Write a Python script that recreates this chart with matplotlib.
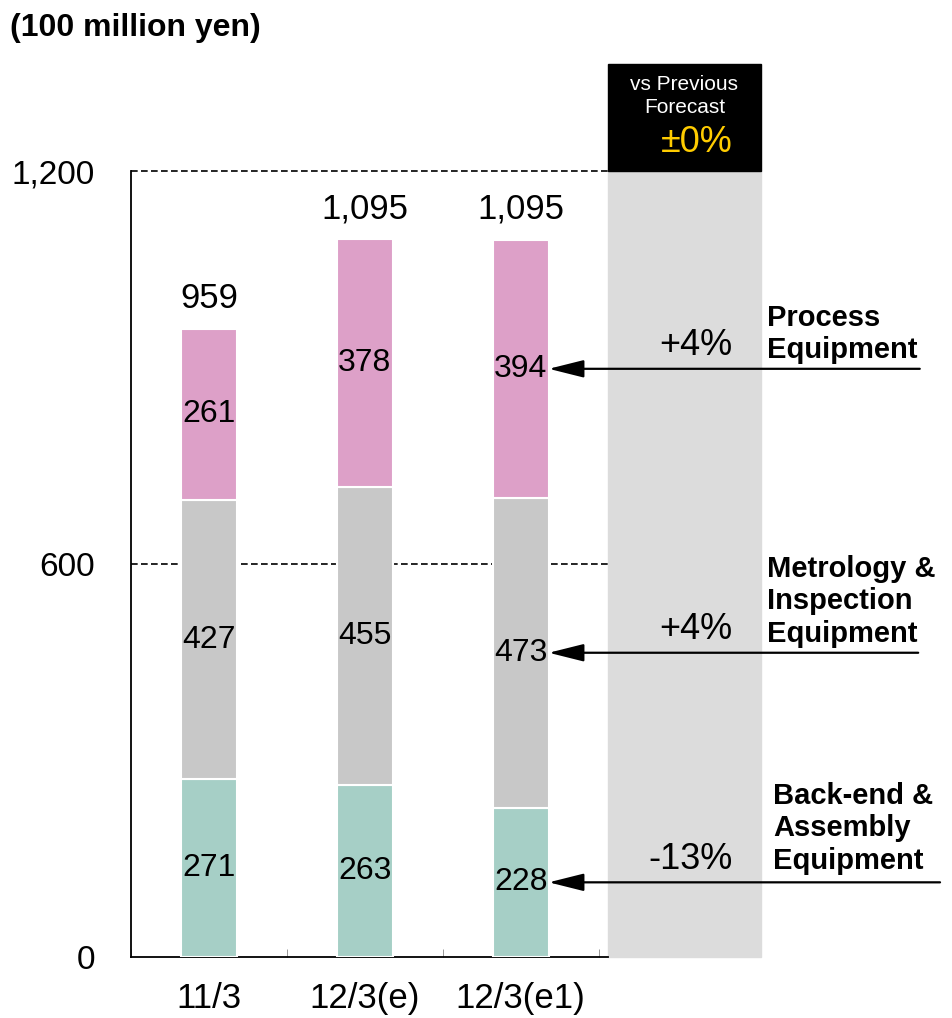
import matplotlib
matplotlib.use('Agg')
import matplotlib.pyplot as plt
from matplotlib.patches import Rectangle

# sales by segment, 100 million yen
periods = ['11/3', '12/3(e)', '12/3(e1)']
backend = [271, 263, 228]
metrology = [427, 455, 473]
process = [261, 378, 394]
totals = ['959', '1,095', '1,095']

segment_names = ['Back-end &\nAssembly\nEquipment',
                 'Metrology &\nInspection\nEquipment',
                 'Process\nEquipment']
segment_change = ['-13%', '+4%', '+4%']
overall_change = '\u00b10%'

c_back = '#a6cfc6'
c_metro = '#c8c8c8'
c_proc = '#dda0c8'

FONT = ['Liberation Sans', 'DejaVu Sans']

fig = plt.figure(figsize=(9.52, 10.18), dpi=100)
ax = fig.add_axes([131/952, 61/1018, 477/952, 786/1018])

x = range(len(periods))
w = 0.36
bottoms2 = [a + b for a, b in zip(backend, metrology)]
ax.bar(x, backend, w, color=c_back, edgecolor='white', lw=1.5, zorder=3)
ax.bar(x, metrology, w, bottom=backend, color=c_metro, edgecolor='white', lw=1.5, zorder=3)
ax.bar(x, process, w, bottom=bottoms2, color=c_proc, edgecolor='white', lw=1.5, zorder=3)

# values inside the segments
for i in x:
    for bot, h in [(0, backend[i]), (backend[i], metrology[i]), (bottoms2[i], process[i])]:
        ax.text(i, bot + h / 2, str(h), ha='center', va='center',
                fontsize=23, family=FONT, zorder=4)
    top = bottoms2[i] + process[i]
    ax.annotate(totals[i], (i, top), xytext=(0, 10), textcoords='offset points',
                ha='center', va='bottom', fontsize=25, family=FONT)

ax.set_xlim(-0.5, 2.56)
ax.set_ylim(0, 1200)
for y in (600, 1200):
    ax.axhline(y, color='black', ls=(0, (4, 2)), lw=1.2, zorder=1, clip_on=False)

for s in ('top', 'right'):
    ax.spines[s].set_visible(False)
ax.spines['left'].set_linewidth(1.3)
ax.spines['bottom'].set_linewidth(1.3)

ax.set_yticks([0, 600, 1200])
ax.set_yticklabels(['0', '600', '1,200'], fontsize=24, family=FONT)
ax.tick_params(axis='y', length=0, pad=26)
ax.set_xticks(list(x))
ax.set_xticklabels(periods, fontsize=25, family=FONT)
ax.tick_params(axis='x', length=0, pad=18)
ax.set_xticks([-0.5, 0.5, 1.5, 2.5], minor=True)
ax.tick_params(axis='x', which='minor', direction='in', length=6, color='#888888')

# comparison column
ax.add_patch(Rectangle((2.56, 0), 0.98, 1200, color='#dcdcdc', clip_on=False, zorder=0))
ax.add_patch(Rectangle((2.56, 1200), 0.98, 163, color='black', clip_on=False, zorder=0))
ax.text(3.05, 1315, 'vs Previous\nForecast', color='white', ha='center', va='center',
        fontsize=15, family=FONT, linespacing=1.25)
ax.text(3.36, 1243, overall_change, color='#ffcc00', ha='right', va='center',
        fontsize=26, family=FONT)

# arrows to the latest forecast bars
last = len(periods) - 1
mids = [backend[last] / 2, backend[last] + metrology[last] / 2,
        bottoms2[last] + process[last] / 2]
tails = [4.69, 4.55, 4.56]
name_x = [3.62, 3.58, 3.58]
name_dy = [39, 37, 25]
for m, tx, name, chg, nx, dy in zip(mids, tails, segment_names, segment_change, name_x, name_dy):
    ax.annotate('', xy=(last + w / 2, m), xytext=(tx, m), annotation_clip=False,
                arrowprops=dict(arrowstyle='-|>,head_length=1.2,head_width=0.3',
                                color='black', lw=1.6, shrinkA=0, shrinkB=0,
                                mutation_scale=18))
    ax.annotate(chg, (3.36, m), xytext=(0, 4), textcoords='offset points',
                ha='right', va='bottom', fontsize=26, family=FONT, annotation_clip=False)
    ax.annotate(name, (nx, m), xytext=(0, dy), textcoords='offset points',
                ha='left', va='center', fontsize=21, family=FONT, weight='bold',
                linespacing=1.2, annotation_clip=False)

fig.text(10/952, 1 - 28/1018, '(100 million yen)', ha='left', va='center',
         fontsize=23, family=FONT, weight='bold')

fig.savefig('out.png', dpi=100)
